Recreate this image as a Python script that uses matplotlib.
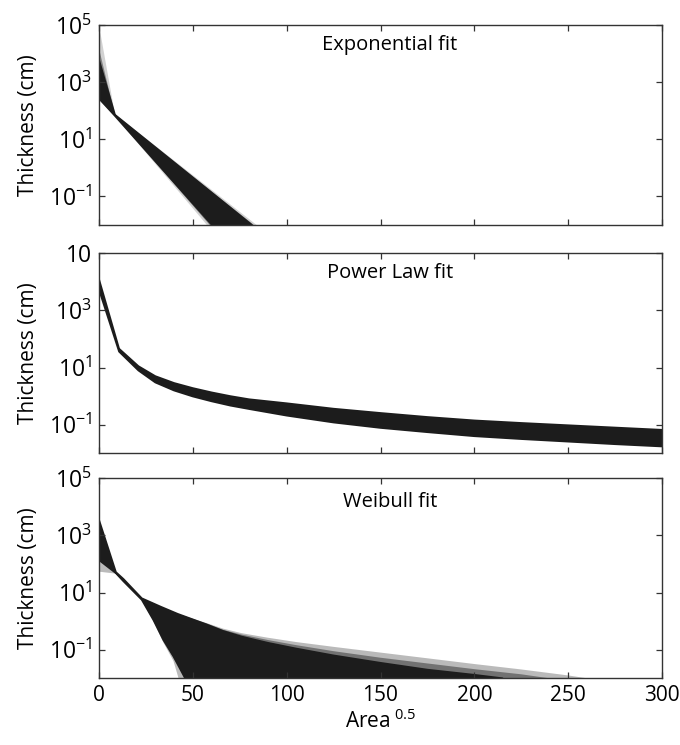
import numpy as np
import matplotlib.pyplot as plt
from matplotlib.ticker import FixedLocator, NullLocator

plt.rcParams['font.family'] = ['Open Sans', 'DejaVu Sans']
plt.rcParams['mathtext.fontset'] = 'custom'
plt.rcParams['mathtext.rm'] = 'Open Sans'
plt.rcParams['mathtext.it'] = 'Open Sans:italic'
plt.rcParams['mathtext.bf'] = 'Open Sans:bold'

# x = Area^0.5, t = thickness (cm); edges of each bundle of fitted curves,
# read off the picture. core = solid black, mid/outer = the grey fringe lines.

# Exponential fit
exp_xu_core = [0, 8.5, 81.5]
exp_tu_core = [6000, 72, 0.01]
exp_xl_core = [0, 8.5, 60.2]
exp_tl_core = [270, 66, 0.01]
exp_xu_mid = [0, 8.5, 82.5]
exp_tu_mid = [15000, 73, 0.01]
exp_xl_mid = [0, 8.5, 59]
exp_tl_mid = [250, 66, 0.01]
exp_xu_out = [0, 8.5, 84]
exp_tu_out = [100000, 75, 0.01]
exp_xl_out = [0, 8.5, 57.5]
exp_tl_out = [230, 65, 0.01]

# Power law fit
pow_x = [0, 10.7, 21, 30, 40, 50, 60, 70, 80, 100, 125, 150, 175, 200, 225,
         250, 275, 300]
pow_tu = [12300, 45.7, 11.2, 5.01, 2.88, 1.91, 1.35, 1.0, 0.776, 0.562, 0.363,
          0.257, 0.186, 0.141, 0.115, 0.0955, 0.0794, 0.0661]
pow_tl = [5370, 36.3, 7.94, 3.02, 1.58, 0.977, 0.661, 0.468, 0.355, 0.209,
          0.120, 0.0776, 0.055, 0.0398, 0.0316, 0.0257, 0.0209, 0.0174]

# Weibull fit
wei_xl_core = [0, 9, 13, 22.8, 29, 34.3, 39.7, 45.9]
wei_tl_core = [138, 48, 25, 5.6, 1.1, 0.22, 0.058, 0.01]
wei_xl_out = [0, 9, 13, 22.8, 29, 34.3, 39.7, 42.4]
wei_tl_out = [54, 46, 25, 5.4, 1.0, 0.18, 0.04, 0.01]
wei_xu_core = [0, 9, 13, 22.8, 32.9, 41.9, 57.5, 66, 76, 90, 105, 125, 150,
               175, 200, 215]
wei_tu_core = [3500, 52, 30, 6.3, 3.2, 1.8, 0.759, 0.457, 0.288, 0.174, 0.110,
               0.063, 0.0347, 0.020, 0.0132, 0.01]
wei_xu_mid = [0, 9, 13, 22.8, 32.9, 41.9, 57.5, 66, 76, 90, 105, 125, 150,
              175, 200, 225, 240]
wei_tu_mid = [3500, 52, 30, 6.3, 3.2, 1.8, 0.813, 0.501, 0.339, 0.219, 0.145,
              0.089, 0.0525, 0.0331, 0.0209, 0.0138, 0.01]
wei_xu_out = [0, 9, 13, 22.8, 32.9, 41.9, 57.5, 66, 76, 90, 105, 125, 150,
              175, 200, 225, 250, 260]
wei_tu_out = [3500, 52, 30, 6.3, 3.2, 1.8, 0.851, 0.550, 0.380, 0.263, 0.186,
              0.126, 0.0794, 0.0501, 0.0316, 0.0204, 0.0126, 0.01]

titles = ['Exponential fit', 'Power Law fit', 'Weibull fit']
ytick_vals = [1e5, 1e3, 1e1, 1e-1]
ytick_labels = [r'$\mathregular{10^{5}}$', r'$\mathregular{10^{3}}$',
                r'$\mathregular{10^{1}}$', r'$\mathregular{10^{-1}}$']
xtick_vals = [0, 50, 100, 150, 200, 250, 300]

# (alpha, x upper, t upper, x lower, t lower)
layers = [
    [(0.2, exp_xu_out, exp_tu_out, exp_xl_out, exp_tl_out),
     (0.45, exp_xu_mid, exp_tu_mid, exp_xl_mid, exp_tl_mid),
     (1.0, exp_xu_core, exp_tu_core, exp_xl_core, exp_tl_core)],
    [(1.0, pow_x, pow_tu, pow_x, pow_tl)],
    [(0.3, wei_xu_out, wei_tu_out, wei_xl_out, wei_tl_out),
     (0.45, wei_xu_mid, wei_tu_mid, wei_xl_core, wei_tl_core),
     (1.0, wei_xu_core, wei_tu_core, wei_xl_core, wei_tl_core)],
]

ink = '#1c1c1c'
fig = plt.figure(figsize=(6.8, 7.45), dpi=100)
tops = [25, 253.3, 478.3]
for i in range(3):
    top = tops[i]
    ax = fig.add_axes([99 / 680, 1 - (top + 200) / 745, 563 / 680, 200 / 745])
    for alpha, xu, tu, xl, tl in layers[i]:
        xs = np.concatenate([xu, xl[::-1]])
        ts = np.concatenate([tu, tl[::-1]])
        if alpha == 1.0:
            ax.fill(xs, ts, facecolor=ink, edgecolor=ink, lw=1.3,
                    joinstyle='round')
        else:
            ax.fill(xs, ts, color=ink, alpha=alpha, lw=0)
    ax.set_yscale('log')
    ax.set_xlim(0, 300)
    ax.set_ylim(1e-2, 1e5)
    ax.yaxis.set_major_locator(FixedLocator(ytick_vals))
    ax.yaxis.set_minor_locator(NullLocator())
    labels = list(ytick_labels)
    if i == 1:
        labels[0] = '10'
    ax.set_yticklabels(labels)
    ax.set_xticks(xtick_vals)
    ax.tick_params(direction='in', length=4, width=0.9, color='#333333',
                   top=True, right=True, pad=5)
    ax.tick_params(axis='y', labelsize=16.5)
    ax.tick_params(axis='x', labelsize=15)
    if i < 2:
        ax.tick_params(labelbottom=False)
    for s in ax.spines.values():
        s.set_linewidth(1.0)
        s.set_color('#333333')
        s.set_zorder(5)
    ax.set_ylabel('Thickness (cm)', fontsize=15)
    ax.yaxis.set_label_coords(-0.106, 0.5)
    ax.text(0.517, 0.9 if i < 2 else 0.88, titles[i], transform=ax.transAxes,
            ha='center', va='center', fontsize=14.5)
    if i == 2:
        ax.set_xlabel(r'$\mathregular{Area^{\ 0.5}}$', fontsize=15, labelpad=2)

fig.savefig('out.png', dpi=100)
